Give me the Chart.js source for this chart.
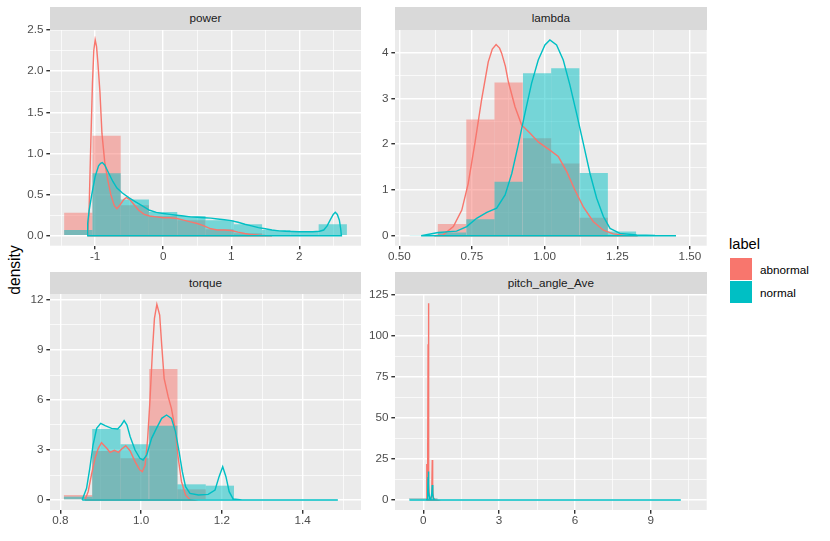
<!DOCTYPE html>
<html>
<head>
<meta charset="utf-8">
<script src="https://cdn.jsdelivr.net/npm/chart.js@4.4.0/dist/chart.umd.min.js"></script>
<style>
  body { margin: 0; width: 830px; height: 541px; background: #fff; position: relative; overflow: hidden;
         font-family: 'Liberation Sans', Arial, sans-serif; }
  .box { position: absolute; }
  .strip { position: absolute; background: #d9d9d9; color: #1a1a1a; font-size: 11.7px;
           text-align: center; height: 22.5px; line-height: 22.5px; }
  #ytitle { position: absolute; left: 15px; top: 270px; font-size: 15.6px; color: #000; line-height: 18px;
            transform: translate(-50%, -50%) rotate(-90deg); white-space: nowrap; }
  #legend-title { position: absolute; left: 729px; top: 235px; font-size: 14.7px; color: #000; line-height: 18px; }
  .key { position: absolute; left: 729.5px; width: 22.5px; height: 22.5px; }
  .key-label { position: absolute; left: 760px; font-size: 11.7px; color: #000; line-height: 14px; }
</style>
</head>
<body>
<div id="ytitle">density</div>
<div id="legend-title">label</div>
<div class="key" style="top:257.7px;background:#F8766D"></div>
<div class="key" style="top:280.7px;background:#00BFC4"></div>
<div class="key-label" style="top:262.5px">abnormal</div>
<div class="key-label" style="top:285.5px">normal</div>
<script>
const RED = '#F8766D';
const CYAN = '#00BFC4';
const FONT = "'Liberation Sans', Arial, sans-serif";

// power
const powerBins = [-1.248, -0.832, -0.417, -0.001, 0.415, 0.830, 1.246, 1.662, 2.077, 2.493];
const powerHistAbnormal = [0.28, 1.215, 0.37, 0.24, 0.19, 0.08, 0.03, 0.01, 0, 0];
const powerHistNormal = [0.07, 0.76, 0.44, 0.29, 0.24, 0.19, 0.14, 0.07, 0.05, 0.14];
const powerDensAbnormal = [[-1.11,0],[-1.09,0.3],[-1.065,1.1],[-1.04,1.85],[-1.02,2.25],[-1.0,2.38],[-0.98,2.3],
  [-0.96,2.1],[-0.93,1.75],[-0.9,1.24],[-0.86,0.9],[-0.82,0.7],[-0.77,0.5],[-0.72,0.37],[-0.68,0.33],[-0.63,0.38],
  [-0.58,0.44],[-0.54,0.465],[-0.49,0.44],[-0.43,0.38],[-0.36,0.31],[-0.28,0.26],[-0.2,0.24],[-0.1,0.23],[0.0,0.22],
  [0.1,0.22],[0.2,0.21],[0.3,0.19],[0.4,0.17],[0.5,0.15],[0.6,0.12],[0.7,0.085],[0.8,0.07],[0.9,0.07],[1.0,0.065],
  [1.1,0.045],[1.2,0.028],[1.3,0.015],[1.4,0.008],[1.5,0.003],[1.6,0]];
const powerDensNormal = [[-1.12,0],[-1.11,0.15],[-1.09,0.3],[-1.05,0.5],[-1.0,0.72],[-0.95,0.85],[-0.92,0.88],
  [-0.895,0.89],[-0.86,0.86],[-0.8,0.76],[-0.74,0.66],[-0.68,0.58],[-0.6,0.52],[-0.5,0.46],[-0.4,0.41],[-0.3,0.36],
  [-0.2,0.31],[-0.1,0.285],[0.0,0.27],[0.1,0.26],[0.2,0.25],[0.3,0.24],[0.4,0.23],[0.5,0.225],[0.6,0.22],[0.7,0.215],
  [0.8,0.205],[0.9,0.195],[1.0,0.185],[1.1,0.165],[1.2,0.14],[1.3,0.12],[1.4,0.1],[1.5,0.085],[1.6,0.07],[1.7,0.06],
  [1.8,0.055],[1.9,0.052],[2.0,0.05],[2.1,0.05],[2.2,0.05],[2.3,0.055],[2.36,0.07],[2.41,0.12],[2.46,0.2],[2.5,0.26],
  [2.53,0.285],[2.56,0.26],[2.59,0.19],[2.61,0.08],[2.62,0]];
const powerXMajor = [-1, 0, 1, 2];
const powerXLabels = ['-1', '0', '1', '2'];
const powerXMinor = [-1.5, -0.5, 0.5, 1.5, 2.5];
const powerYMajor = [0, 0.5, 1, 1.5, 2, 2.5];
const powerYLabels = ['0.0', '0.5', '1.0', '1.5', '2.0', '2.5'];
const powerYMinor = [0.25, 0.75, 1.25, 1.75, 2.25];

// lambda
const lambdaBins = [0.584, 0.681, 0.779, 0.876, 0.974, 1.071, 1.169, 1.266, 1.364, 1.461];
const lambdaHistAbnormal = [0, 0.255, 2.54, 3.35, 2.13, 1.58, 0.39, 0, 0, 0];
const lambdaHistNormal = [0.01, 0.07, 0.36, 1.18, 3.55, 3.66, 1.37, 0.09, 0, 0];
const lambdaDensAbnormal = [[0.62,0],[0.65,0.015],[0.686,0.2],[0.715,0.56],[0.737,1.14],[0.76,2.02],[0.783,2.97],
  [0.806,3.8],[0.82,4.08],[0.833,4.18],[0.845,4.1],[0.852,3.99],[0.865,3.7],[0.875,3.37],[0.898,2.82],[0.921,2.42],
  [0.95,2.24],[0.978,2.05],[1.018,1.87],[1.047,1.73],[1.076,1.4],[1.104,1.0],[1.133,0.63],[1.167,0.31],[1.202,0.12],
  [1.236,0.04],[1.28,0.005],[1.32,0]];
const lambdaDensNormal = [[0.575,0],[0.634,0.07],[0.697,0.1],[0.732,0.2],[0.766,0.38],[0.801,0.51],[0.835,0.6],
  [0.864,0.89],[0.887,1.36],[0.909,1.98],[0.932,2.67],[0.955,3.33],[0.978,3.84],[1.001,4.17],[1.018,4.28],[1.041,4.17],
  [1.064,3.84],[1.087,3.29],[1.11,2.67],[1.133,2.02],[1.156,1.36],[1.179,0.82],[1.202,0.42],[1.225,0.16],[1.259,0.05],
  [1.317,0.015],[1.38,0.003],[1.452,0]];
const lambdaXMajor = [0.5, 0.75, 1, 1.25, 1.5];
const lambdaXLabels = ['0.50', '0.75', '1.00', '1.25', '1.50'];
const lambdaXMinor = [0.625, 0.875, 1.125, 1.375];
const lambdaYMajor = [0, 1, 2, 3, 4];
const lambdaYLabels = ['0', '1', '2', '3', '4'];
const lambdaYMinor = [0.5, 1.5, 2.5, 3.5];

// torque
const torqueBins = [0.844, 0.914, 0.984, 1.055, 1.125, 1.195, 1.265, 1.336, 1.406, 1.476];
const torqueHistAbnormal = [0.3, 2.94, 2.5, 7.86, 0.64, 0, 0, 0, 0, 0];
const torqueHistNormal = [0.2, 4.26, 3.34, 4.46, 0.94, 0.86, 0, 0, 0, 0];
const torqueDensAbnormal = [[0.861,0],[0.869,0.5],[0.877,1.5],[0.886,2.5],[0.894,3.1],[0.902,3.44],[0.915,3.1],
  [0.923,2.86],[0.934,2.98],[0.944,2.86],[0.952,3.06],[0.962,3.26],[0.973,2.94],[0.985,2.3],[0.997,1.8],[1.003,1.7],
  [1.01,2.1],[1.016,3.6],[1.022,6.0],[1.028,8.9],[1.033,10.9],[1.039,11.74],[1.046,11.1],[1.051,9.3],[1.057,7.3],
  [1.067,6.2],[1.075,5.5],[1.084,4.3],[1.092,2.5],[1.1,1.1],[1.11,0.3],[1.121,0.02],[1.125,0]];
const torqueDensNormal = [[0.854,0],[0.865,0.7],[0.873,1.9],[0.881,3.3],[0.89,4.3],[0.9,4.6],[0.911,4.46],
  [0.927,4.3],[0.942,4.26],[0.951,4.5],[0.958,4.76],[0.965,4.5],[0.973,3.8],[0.985,3.0],[0.997,2.5],[1.005,2.4],
  [1.014,2.7],[1.026,3.7],[1.038,4.3],[1.051,4.9],[1.063,5.1],[1.075,4.9],[1.085,4.1],[1.094,2.9],[1.102,1.7],
  [1.11,0.8],[1.121,0.4],[1.142,0.3],[1.166,0.34],[1.183,0.6],[1.193,1.4],[1.202,2.0],[1.21,1.4],[1.218,0.5],
  [1.228,0.06],[1.25,0],[1.487,0]];
const torqueXMajor = [0.8, 1.0, 1.2, 1.4];
const torqueXLabels = ['0.8', '1.0', '1.2', '1.4'];
const torqueXMinor = [0.9, 1.1, 1.3, 1.5];
const torqueYMajor = [0, 3, 6, 9, 12];
const torqueYLabels = ['0', '3', '6', '9', '12'];
const torqueYMinor = [1.5, 4.5, 7.5, 10.5];

// pitch_angle_Ave
const pitchBins = [0.0, 1.121, 2.242, 3.363, 4.484, 5.605, 6.726, 7.847, 8.968, 10.089];
const pitchHistAbnormal = [0.88, 0, 0, 0, 0, 0, 0, 0, 0, 0];
const pitchHistNormal = [0.87, 0, 0, 0, 0, 0, 0, 0, 0, 0];
const pitchDensAbnormal = [[0.12,0],[0.135,8],[0.142,22],[0.152,4],[0.17,6],[0.18,30],[0.19,95],[0.198,120],
  [0.205,95],[0.215,40],[0.225,10],[0.24,2],[0.27,0.8],[0.32,2],[0.34,10],[0.356,24.4],[0.37,10],[0.39,2],
  [0.43,0.3],[0.5,0]];
const pitchDensNormal = [[-0.55,0],[0.1,0],[0.15,0.5],[0.175,6],[0.19,14],[0.198,17.3],[0.207,13],[0.22,5],
  [0.25,1],[0.3,0.5],[0.335,4],[0.356,9.1],[0.372,4],[0.4,0.8],[0.45,0.2],[0.6,0],[10.19,0]];
const pitchXMajor = [0, 3, 6, 9];
const pitchXLabels = ['0', '3', '6', '9'];
const pitchXMinor = [1.5, 4.5, 7.5, 10.5];
const pitchYMajor = [0, 25, 50, 75, 100, 125];
const pitchYLabels = ['0', '25', '50', '75', '100', '125'];
const pitchYMinor = [12.5, 37.5, 62.5, 87.5, 112.5];

// grey panel behind the grid
const panelBg = {
  id: 'panelBg',
  beforeDraw(chart) {
    const a = chart.chartArea, ctx = chart.ctx;
    ctx.save();
    ctx.fillStyle = '#ebebeb';
    ctx.fillRect(a.left, a.top, a.right - a.left, a.bottom - a.top);
    ctx.restore();
  }
};

function histPoints(centers, heights) {
  return centers.map((c, i) => ({ x: c, y: heights[i] }));
}
// closed outline like geom_density: curve, then back along zero
function densPoints(curve) {
  const pts = curve.map(p => ({ x: p[0], y: p[1] }));
  pts.push({ x: curve[0][0], y: 0 });
  return pts;
}

function axis(min, max, major, labels, minor, pad, fit) {
  const isMajor = v => major.some(m => Math.abs(m - v) < 1e-9);
  return {
    type: 'linear', min: min, max: max, offset: false,
    afterBuildTicks: s => {
      s.ticks = major.concat(minor).filter(v => v >= min && v <= max)
        .sort((a, b) => a - b).map(v => ({ value: v }));
    },
    afterFit: fit,
    ticks: {
      autoSkip: false, maxRotation: 0, minRotation: 0, padding: pad, color: '#4d4d4d',
      font: { family: FONT, size: 11.7 },
      callback: v => { const i = major.findIndex(m => Math.abs(m - v) < 1e-9); return i < 0 ? '' : labels[i]; }
    },
    grid: {
      offset: false, color: '#ffffff',
      lineWidth: c => (c.tick && isMajor(c.tick.value)) ? 1.42 : 0.71,
      drawTicks: true, tickLength: 3.67, tickWidth: 1.42,
      tickColor: c => (c.tick && isMajor(c.tick.value)) ? '#333333' : 'rgba(0,0,0,0)'
    },
    border: { display: false }
  };
}

function panel(title, geo, d) {
  const cl = geo.left - geo.axisW;
  const ct = Math.floor(geo.top - 10);
  const cw = Math.ceil(geo.right - cl + 6);
  const ch = Math.ceil(geo.bottom - ct + 26);
  const padTop = geo.top - ct;
  const padRight = cw - (geo.right - cl);
  const xH = ch - (geo.bottom - ct);

  const box = document.createElement('div');
  box.className = 'box';
  box.style.left = cl + 'px'; box.style.top = ct + 'px';
  box.style.width = cw + 'px'; box.style.height = ch + 'px';
  const canvas = document.createElement('canvas');
  box.appendChild(canvas);
  document.body.appendChild(box);

  const strip = document.createElement('div');
  strip.className = 'strip';
  strip.textContent = title;
  strip.style.left = geo.left + 'px';
  strip.style.top = (geo.top - 22.5) + 'px';
  strip.style.width = (geo.right - geo.left) + 'px';
  document.body.appendChild(strip);

  const bar = { type: 'bar', grouped: false, barPercentage: 1, categoryPercentage: 1,
                borderWidth: 0, inflateAmount: 0 };
  const line = { type: 'line', borderWidth: 1.42, pointRadius: 0, fill: false, tension: 0 };

  new Chart(canvas, {
    type: 'bar',
    data: {
      datasets: [
        Object.assign({}, line, { label: 'normal', data: densPoints(d.densN), borderColor: CYAN, order: 1 }),
        Object.assign({}, line, { label: 'abnormal', data: densPoints(d.densA), borderColor: RED, order: 2 }),
        Object.assign({}, bar, { label: 'normal', data: histPoints(d.bins, d.histN), backgroundColor: 'rgba(0,191,196,0.5)', order: 3 }),
        Object.assign({}, bar, { label: 'abnormal', data: histPoints(d.bins, d.histA), backgroundColor: 'rgba(248,118,109,0.5)', order: 4 })
      ]
    },
    options: {
      responsive: true, maintainAspectRatio: false, animation: false,
      layout: { padding: { top: padTop, right: padRight, left: 0, bottom: 0 } },
      plugins: { legend: { display: false }, tooltip: { enabled: false } },
      scales: {
        x: axis(d.xr[0], d.xr[1], d.xMajor, d.xLabels, d.xMinor, 0, s => { s.height = xH; }),
        y: axis(d.yr[0], d.yr[1], d.yMajor, d.yLabels, d.yMinor, 2.9, s => { s.width = geo.axisW; })
      }
    },
    plugins: [panelBg]
  });
}

panel('power', { left: 50, top: 29.5, right: 361, bottom: 245.7, axisW: 50 }, {
  bins: powerBins, histA: powerHistAbnormal, histN: powerHistNormal,
  densA: powerDensAbnormal, densN: powerDensNormal, xr: [-1.664, 2.908], yr: [-0.12, 2.505],
  xMajor: powerXMajor, xLabels: powerXLabels, xMinor: powerXMinor,
  yMajor: powerYMajor, yLabels: powerYLabels, yMinor: powerYMinor
});
panel('lambda', { left: 395, top: 29.5, right: 706.7, bottom: 245.7, axisW: 40 }, {
  bins: lambdaBins, histA: lambdaHistAbnormal, histN: lambdaHistNormal,
  densA: lambdaDensAbnormal, densN: lambdaDensNormal, xr: [0.4852, 1.5575], yr: [-0.2186, 4.507],
  xMajor: lambdaXMajor, xLabels: lambdaXLabels, xMinor: lambdaXMinor,
  yMajor: lambdaYMajor, yLabels: lambdaYLabels, yMinor: lambdaYMinor
});
panel('torque', { left: 50, top: 294, right: 361, bottom: 510, axisW: 50 }, {
  bins: torqueBins, histA: torqueHistAbnormal, histN: torqueHistNormal,
  densA: torqueDensAbnormal, densN: torqueDensNormal, xr: [0.7745, 1.5443], yr: [-0.6, 12.36],
  xMajor: torqueXMajor, xLabels: torqueXLabels, xMinor: torqueXMinor,
  yMajor: torqueYMajor, yLabels: torqueYLabels, yMinor: torqueYMinor
});
panel('pitch_angle_Ave', { left: 395, top: 294, right: 706.7, bottom: 510, axisW: 40 }, {
  bins: pitchBins, histA: pitchHistAbnormal, histN: pitchHistNormal,
  densA: pitchDensAbnormal, densN: pitchDensNormal, xr: [-1.12, 11.215], yr: [-6.1, 125.6],
  xMajor: pitchXMajor, xLabels: pitchXLabels, xMinor: pitchXMinor,
  yMajor: pitchYMajor, yLabels: pitchYLabels, yMinor: pitchYMinor
});
</script>
</body>
</html>
